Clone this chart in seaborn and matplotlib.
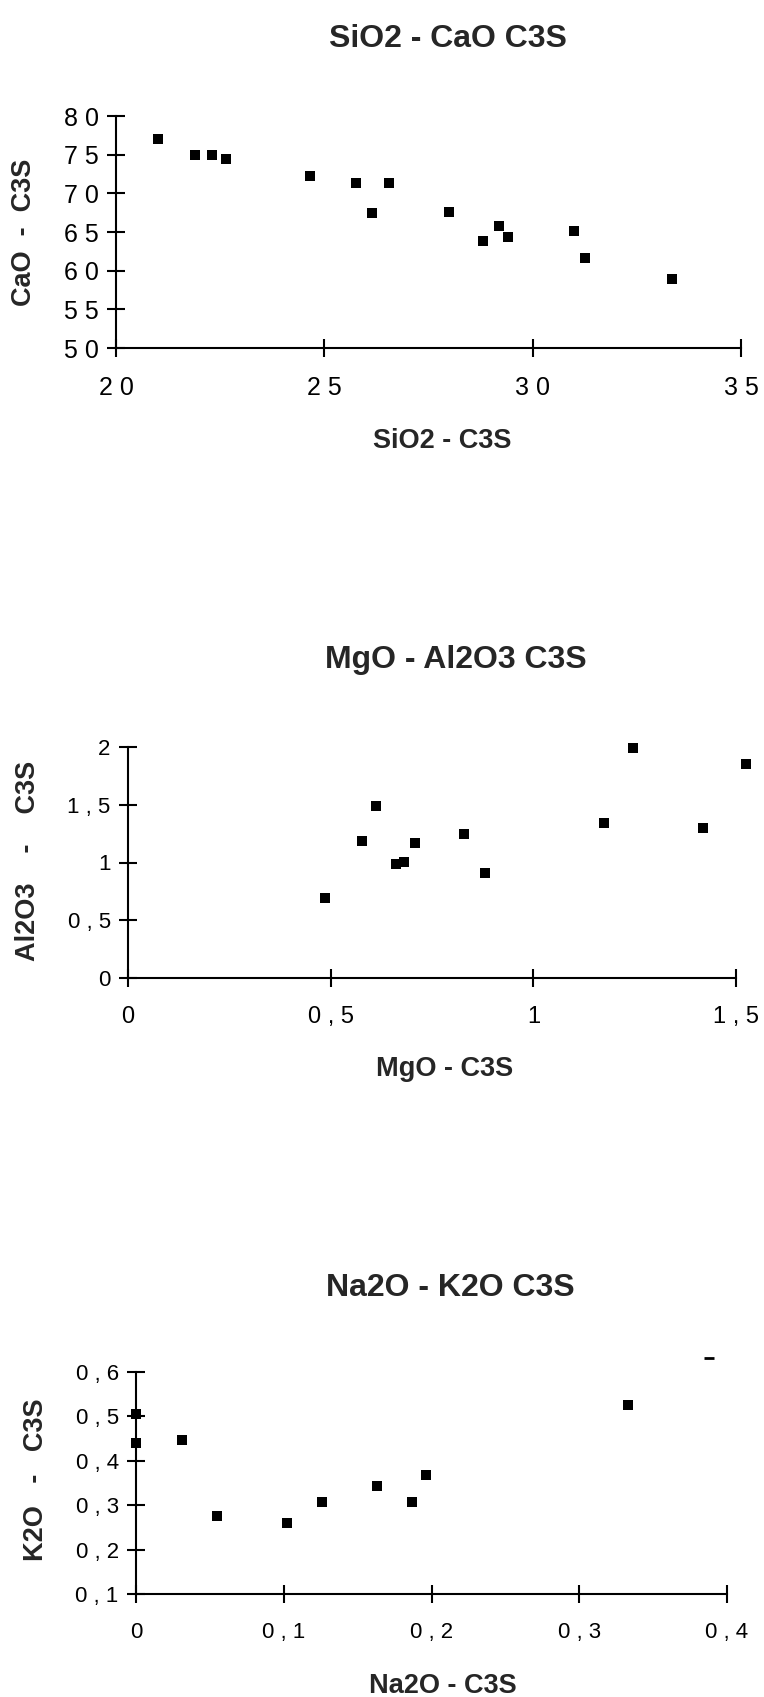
import matplotlib.pyplot as plt
import seaborn as sns
from matplotlib.ticker import FuncFormatter

# C3S oxide contents
sio2 = [21.0, 21.9, 22.3, 22.65, 24.65, 25.75, 26.55, 26.15, 28.0, 28.8, 29.2, 29.4, 31.0, 31.25, 33.35]
cao = [77.0, 75.0, 75.0, 74.5, 72.2, 71.4, 71.4, 67.5, 67.6, 63.8, 65.8, 64.4, 65.1, 61.7, 58.9]

mgo = [0.486, 0.578, 0.611, 0.66, 0.682, 0.708, 0.829, 0.881, 1.174, 1.245, 1.418, 1.525]
al2o3 = [0.69, 1.186, 1.488, 0.984, 1.004, 1.171, 1.246, 0.912, 1.341, 1.994, 1.298, 1.85]

na2o = [0.0, 0.0, 0.031, 0.055, 0.102, 0.126, 0.163, 0.187, 0.196, 0.333]
k2o = [0.506, 0.441, 0.446, 0.276, 0.261, 0.308, 0.344, 0.308, 0.368, 0.526]
# clipped mark above the top of the K2O axis
na2o_stray = [0.388]
k2o_stray = [0.631]

W, H = 764, 1697

sns.set_theme(style="ticks")
plt.rcParams["font.family"] = ["Liberation Sans", "DejaVu Sans"]


def spaced(v, pos):
    # scanned labels use wide tracking and a decimal comma: "0 , 5", "8 0"
    return " ".join(f"{v:g}".replace(".", ","))


def fx(px):
    return px / W


def fy(py):
    return 1 - py / H


panels = [
    dict(x=sio2, y=cao, box=(116, 741, 116, 348), xlim=(20, 35), ylim=(50, 80),
         xticks=[20, 25, 30, 35], yticks=[50, 55, 60, 65, 70, 75, 80],
         xtick_fs=18, ytick_fs=18,
         title="SiO2 - CaO C3S", title_at=(448, 39),
         xlabel="SiO2 - C3S", xlabel_at=(442, 441),
         ylabel="CaO  -  C3S", ylabel_at=(24, 232)),
    dict(x=mgo, y=al2o3, box=(128, 736, 747, 978), xlim=(0, 1.5), ylim=(0, 2),
         xticks=[0, 0.5, 1, 1.5], yticks=[0, 0.5, 1, 1.5, 2],
         xtick_fs=17, ytick_fs=16,
         title="MgO - Al2O3 C3S", title_at=(456, 660),
         xlabel="MgO - C3S", xlabel_at=(445, 1069),
         ylabel="Al2O3    -    C3S", ylabel_at=(28, 861)),
    dict(x=na2o, y=k2o, box=(136, 727, 1372, 1594), xlim=(0, 0.4), ylim=(0.1, 0.6),
         xticks=[0, 0.1, 0.2, 0.3, 0.4], yticks=[0.1, 0.2, 0.3, 0.4, 0.5, 0.6],
         xtick_fs=16, ytick_fs=16,
         title="Na2O - K2O C3S", title_at=(450, 1288),
         xlabel="Na2O - C3S", xlabel_at=(443, 1686),
         ylabel="K2O   -   C3S", ylabel_at=(36, 1480)),
]

fig = plt.figure(figsize=(W / 100, H / 100), dpi=100)
fig.patch.set_facecolor("white")

for p in panels:
    left, right, top, bottom = p["box"]
    ax = fig.add_axes([fx(left), fy(bottom), (right - left) / W, (bottom - top) / H])
    sns.scatterplot(x=p["x"], y=p["y"], ax=ax, marker="s", color="black",
                    s=55, linewidth=0, clip_on=False)
    ax.set_xlim(*p["xlim"])
    ax.set_ylim(*p["ylim"])
    ax.set_xticks(p["xticks"])
    ax.set_yticks(p["yticks"])
    ax.xaxis.set_major_formatter(FuncFormatter(spaced))
    ax.yaxis.set_major_formatter(FuncFormatter(spaced))
    ax.set_facecolor("white")
    ax.grid(False)
    for side in ("top", "right"):
        ax.spines[side].set_visible(False)
    for side in ("left", "bottom"):
        ax.spines[side].set_color("black")
        ax.spines[side].set_linewidth(1.5)
    ax.tick_params(axis="both", direction="inout", length=13, width=1.5,
                   color="black", labelcolor="black")
    ax.tick_params(axis="x", pad=14, labelsize=p["xtick_fs"])
    ax.tick_params(axis="y", pad=6, labelsize=p["ytick_fs"])

    fig.text(fx(p["title_at"][0]), fy(p["title_at"][1]), p["title"],
             ha="center", va="center", fontsize=23, fontweight="bold")
    fig.text(fx(p["xlabel_at"][0]), fy(p["xlabel_at"][1]), p["xlabel"],
             ha="center", va="center", fontsize=19.5, fontweight="bold")
    fig.text(fx(p["ylabel_at"][0]), fy(p["ylabel_at"][1]), p["ylabel"],
             ha="center", va="center", rotation=90, fontsize=19.5, fontweight="bold")

ax = fig.axes[2]
sns.scatterplot(x=na2o_stray, y=k2o_stray, ax=ax, marker="_", color="black",
                s=60, linewidth=2, clip_on=False)

fig.savefig("out.png", dpi=100, facecolor="white")
